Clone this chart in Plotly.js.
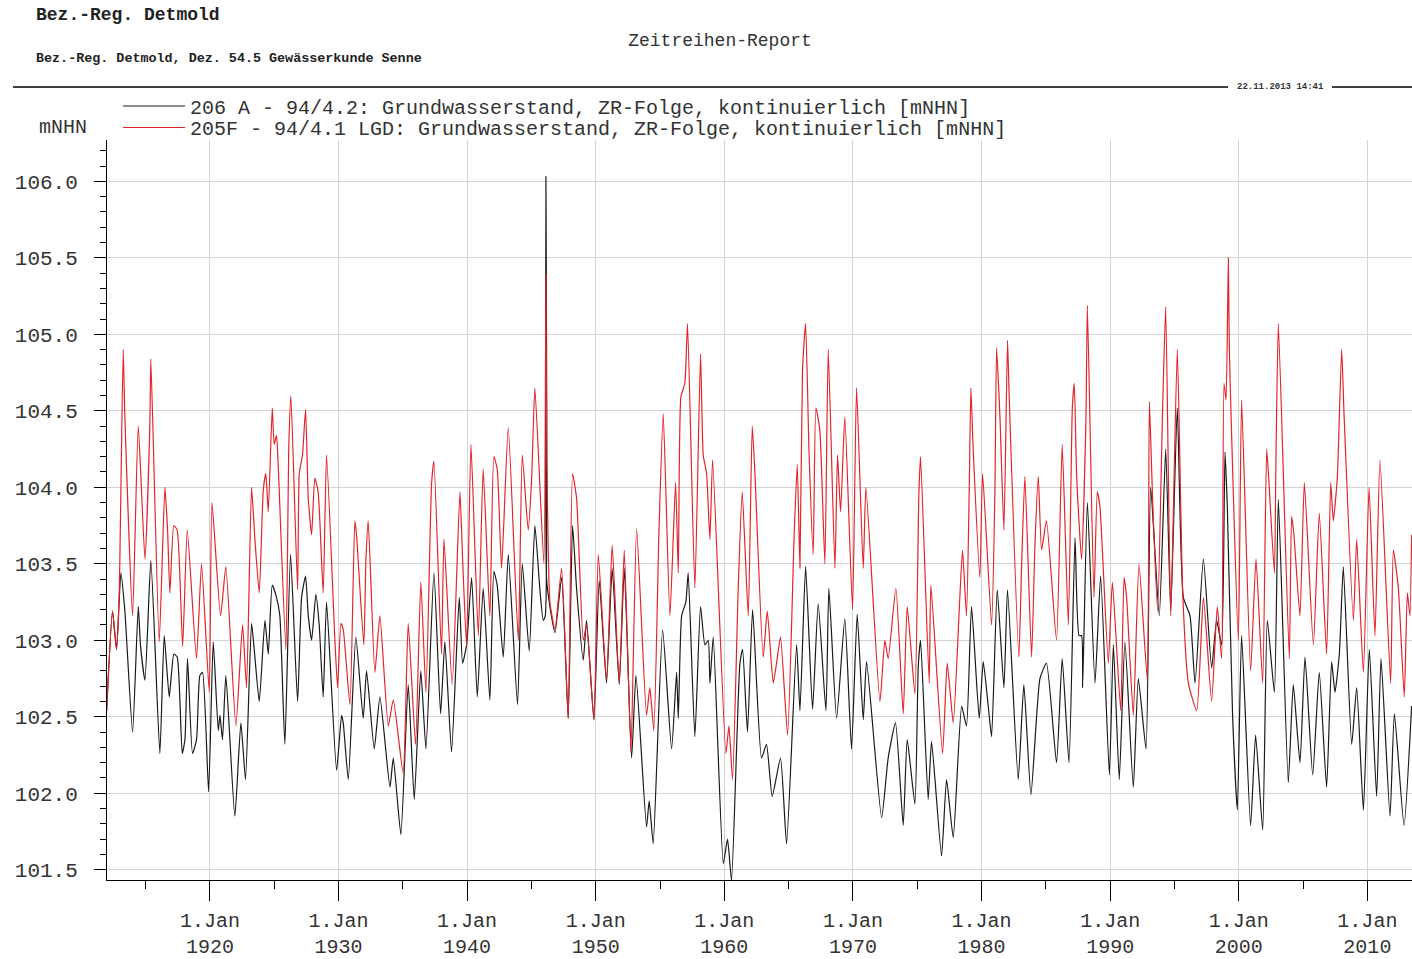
<!DOCTYPE html>
<html><head><meta charset="utf-8">
<script src="https://cdn.plot.ly/plotly-3.0.1.min.js"></script>
<style>html,body{margin:0;padding:0;background:#fff}#chart{width:1412px;height:959px}</style>
</head><body><div id="chart"></div>
<script>
const blackYears = [1911.97,1912.43,1912.74,1913.08,1913.39,1913.99,1914.43,1914.61,1914.95,1915.41,1916.11,1916.45,1916.84,1917.20,1917.46,1917.85,1918.06,1918.26,1918.65,1918.96,1919.22,1919.43,1919.90,1920.26,1920.65,1920.78,1920.98,1921.24,1921.94,1922.41,1922.77,1923.24,1923.50,1923.84,1924.28,1924.54,1924.85,1925.18,1925.44,1925.83,1926.27,1926.82,1927.13,1927.44,1927.65,1927.91,1928.24,1928.50,1928.81,1929.07,1929.85,1930.24,1930.37,1930.76,1931.35,1931.92,1932.18,1932.78,1933.22,1934.00,1934.26,1934.85,1935.42,1935.89,1936.40,1936.80,1937.42,1937.94,1938.27,1938.79,1939.39,1939.65,1939.96,1940.35,1940.79,1941.25,1941.77,1942.08,1942.34,1942.81,1943.20,1943.92,1944.29,1944.83,1945.27,1945.66,1945.92,1946.08,1946.13,1946.18,1946.44,1946.83,1947.35,1947.86,1948.20,1948.51,1949.03,1949.29,1949.86,1950.27,1950.84,1951.28,1951.83,1952.22,1952.79,1953.13,1953.95,1954.16,1954.47,1955.20,1955.90,1956.29,1956.42,1956.68,1957.01,1957.19,1957.71,1958.15,1958.49,1958.75,1958.88,1959.14,1959.92,1960.25,1960.56,1961.21,1961.42,1961.80,1962.20,1962.89,1963.28,1963.72,1964.37,1964.84,1965.62,1965.88,1966.32,1966.86,1967.30,1967.90,1968.13,1968.73,1969.37,1969.89,1970.33,1970.80,1971.06,1972.23,1972.74,1973.31,1973.91,1974.22,1974.82,1975.08,1975.26,1975.85,1976.11,1976.89,1977.28,1977.80,1978.45,1978.83,1979.22,1979.82,1980.13,1980.52,1980.78,1981.22,1981.74,1982.02,1982.85,1983.29,1983.84,1984.54,1985.05,1985.83,1986.27,1986.80,1987.27,1987.58,1987.78,1987.86,1988.23,1988.82,1989.26,1989.94,1990.25,1990.71,1991.15,1991.80,1992.19,1992.79,1993.15,1993.82,1994.32,1994.71,1995.22,1995.69,1996.21,1996.60,1997.25,1997.89,1998.28,1998.67,1998.93,1999.11,1999.52,1999.89,2000.22,2000.92,2001.31,2001.86,2002.22,2002.77,2003.08,2003.85,2004.24,2004.76,2005.15,2005.75,2006.26,2006.83,2007.22,2007.48,2007.82,2008.13,2008.78,2009.17,2009.69,2010.15,2010.72,2011.06,2011.76,2012.10,2012.85,2013.44];
const blackLevels = [102.54,103.19,102.94,103.44,103.19,102.40,103.22,102.96,102.74,103.52,102.26,103.03,102.63,102.91,102.89,102.26,102.35,102.88,102.26,102.35,102.77,102.79,102.01,102.99,102.41,102.51,102.35,102.77,101.85,102.46,102.09,103.11,102.89,102.60,103.13,102.91,103.36,103.28,103.16,102.32,103.56,102.60,103.28,103.42,103.16,103.00,103.30,103.10,102.63,103.25,102.15,102.51,102.46,102.09,103.02,102.49,102.80,102.29,102.63,102.04,102.23,101.73,102.71,101.96,102.80,102.29,103.44,102.52,102.99,102.27,103.28,102.85,102.97,103.41,102.63,103.34,102.61,103.45,103.36,102.89,103.56,102.58,103.50,102.93,103.75,103.33,103.13,103.16,106.03,103.40,103.22,103.05,103.41,102.49,103.75,103.34,102.87,103.13,102.48,103.39,102.72,103.47,102.71,103.47,102.23,102.77,101.78,101.95,101.67,103.07,102.29,102.79,102.49,103.16,103.25,103.44,102.37,103.22,102.97,103.00,102.72,103.02,101.54,101.70,101.43,102.85,102.94,102.40,103.20,102.23,102.32,101.98,102.23,101.67,102.97,102.54,103.48,102.55,103.24,102.54,103.34,102.49,103.14,102.29,103.17,102.48,102.86,101.84,102.23,102.46,101.79,102.35,101.93,102.83,103.00,101.96,102.34,101.59,102.09,101.71,102.57,102.44,103.22,102.49,102.86,102.57,102.37,103.33,102.69,103.33,102.09,102.71,101.99,102.75,102.85,102.20,102.88,102.20,103.67,103.03,103.03,102.69,103.90,102.72,103.42,102.12,102.97,102.09,102.99,102.04,102.75,102.29,104.00,103.16,104.25,103.19,104.52,103.28,103.16,102.72,103.53,102.82,103.13,102.97,104.23,103.87,102.51,101.89,103.03,101.79,102.38,101.76,103.13,102.66,103.92,102.07,102.71,102.20,102.89,102.12,102.79,102.04,102.86,102.66,102.91,103.48,102.32,102.69,101.89,102.94,101.98,102.88,101.85,102.52,101.79,102.57];

const redYears = [1911.97,1912.43,1912.74,1912.95,1913.26,1913.39,1913.99,1914.43,1914.95,1915.33,1915.41,1916.06,1916.50,1916.71,1916.89,1917.20,1917.46,1917.88,1918.24,1918.96,1919.35,1919.95,1920.16,1920.83,1921.24,1922.02,1922.54,1922.85,1923.24,1923.50,1923.84,1924.15,1924.35,1924.54,1924.85,1925.00,1925.18,1925.31,1925.91,1926.14,1926.30,1926.82,1926.95,1927.20,1927.44,1927.65,1927.91,1928.16,1928.42,1928.81,1929.07,1929.72,1929.93,1930.19,1930.37,1930.89,1931.27,1931.40,1931.97,1932.13,1932.31,1932.83,1933.22,1933.87,1934.26,1935.03,1935.42,1935.99,1936.40,1936.80,1937.24,1937.42,1938.01,1938.20,1938.84,1939.44,1939.65,1939.96,1940.30,1940.87,1941.25,1941.77,1942.08,1942.34,1942.68,1943.20,1943.98,1944.29,1944.75,1945.01,1945.27,1945.97,1946.13,1946.20,1946.44,1946.83,1947.35,1947.86,1948.20,1948.51,1949.03,1949.29,1949.86,1950.20,1950.84,1951.28,1951.83,1952.22,1952.74,1953.18,1953.95,1954.21,1954.52,1954.91,1955.25,1955.77,1956.21,1956.42,1956.62,1956.93,1957.14,1957.71,1958.15,1958.36,1958.62,1958.88,1959.09,1960.12,1960.36,1960.64,1961.08,1961.39,1961.86,1962.17,1962.38,1963.02,1963.34,1963.80,1964.06,1964.37,1964.92,1965.43,1965.67,1965.88,1966.08,1966.32,1966.58,1966.91,1967.12,1967.43,1967.82,1968.08,1968.60,1968.80,1969.04,1969.37,1969.97,1970.28,1970.80,1971.01,1972.10,1972.48,1972.74,1973.34,1973.91,1974.22,1974.82,1975.13,1975.26,1975.93,1976.06,1976.97,1977.33,1977.80,1978.26,1978.52,1978.83,1979.04,1979.17,1979.35,1979.87,1980.08,1980.78,1981.04,1981.17,1981.43,1981.74,1982.02,1982.15,1982.90,1983.11,1983.37,1983.89,1984.15,1984.41,1984.67,1985.05,1985.83,1986.27,1986.75,1987.06,1987.21,1987.40,1987.78,1988.12,1988.23,1988.74,1989.00,1989.21,1989.86,1990.17,1990.82,1991.08,1991.28,1991.80,1992.24,1992.89,1993.05,1993.31,1993.69,1994.08,1994.32,1994.71,1995.22,1995.64,1996.08,1996.73,1997.25,1997.89,1998.33,1998.67,1998.85,1999.01,1999.19,1999.27,1999.97,2000.22,2000.92,2001.34,2001.86,2002.17,2002.35,2002.77,2002.89,2003.08,2003.93,2004.11,2004.29,2004.76,2005.10,2005.80,2006.26,2006.83,2007.15,2007.35,2007.66,2008.00,2008.18,2008.91,2009.17,2009.69,2010.13,2010.59,2010.98,2011.81,2012.02,2012.41,2012.87,2013.11,2013.31,2013.44];
const redLevels = [102.54,103.19,102.94,103.31,104.90,104.46,103.16,104.40,103.53,104.40,104.84,102.99,104.00,103.72,103.31,103.75,103.72,102.96,103.72,102.88,103.50,102.66,103.90,103.16,103.48,102.44,103.10,102.69,104.00,103.66,103.31,103.98,104.09,103.84,104.52,104.28,104.34,104.15,102.94,104.28,104.60,103.33,104.09,104.21,104.51,103.93,103.69,104.06,103.97,103.31,104.21,103.00,102.69,103.11,103.07,102.58,103.78,103.69,102.97,103.52,103.78,102.79,103.16,102.44,102.61,102.13,103.11,102.32,103.38,102.66,104.03,104.17,102.91,103.66,102.71,103.97,103.53,102.96,104.28,103.03,104.12,103.16,104.20,104.12,103.47,104.39,103.00,104.21,103.72,104.04,104.65,103.50,105.39,104.20,103.25,103.07,103.47,102.49,104.09,103.93,103.00,103.10,102.48,103.56,102.74,103.62,102.72,103.59,102.27,103.73,102.51,102.69,102.41,103.69,104.48,103.16,104.03,103.44,104.59,104.68,105.07,103.34,104.87,104.21,104.09,103.66,104.18,102.26,102.44,102.09,103.34,103.97,103.16,104.40,104.09,102.89,103.19,102.72,102.85,103.02,102.38,103.69,104.15,103.47,104.77,105.07,104.25,103.56,104.52,104.37,103.50,104.90,103.47,104.21,103.84,104.46,103.20,104.65,103.47,104.00,102.60,103.00,102.88,103.34,102.52,103.22,102.65,103.97,104.20,102.72,103.36,102.26,102.85,102.46,103.19,103.59,103.16,103.97,104.65,104.25,103.41,104.09,103.10,103.97,104.91,104.46,103.72,104.96,104.59,102.89,103.47,104.07,102.89,103.62,104.07,103.59,103.78,103.00,104.28,103.10,104.52,104.68,104.06,103.53,104.46,105.19,103.28,103.97,103.87,102.85,103.38,102.54,103.41,103.28,102.51,103.50,102.74,104.56,103.90,103.19,104.52,105.18,103.16,104.90,103.31,102.72,102.54,103.28,102.60,103.22,102.88,104.68,104.57,105.50,104.90,103.00,104.57,102.80,103.53,102.72,104.25,104.03,103.44,104.17,105.07,102.88,103.81,103.69,103.16,104.03,102.97,103.83,102.91,104.03,103.78,104.06,104.90,104.49,103.13,103.66,102.79,104.00,103.03,104.18,102.72,103.59,103.34,102.63,103.31,103.16,103.69];

const seriesNames = [
  '206 A - 94/4.2: Grundwasserstand, ZR-Folge, kontinuierlich [mNHN]',
  '205F - 94/4.1 LGD: Grundwasserstand, ZR-Folge, kontinuierlich [mNHN]'
];
const decadeTicks = [1920,1930,1940,1950,1960,1970,1980,1990,2000,2010];
const tickLabels = decadeTicks.map(y => '1.Jan<br>' + y);
const yTicks = [101.5,102.0,102.5,103.0,103.5,104.0,104.5,105.0,105.5,106.0];
const yTickLabels = yTicks.map(v => v.toFixed(1));

const MONO = 'Liberation Mono, Courier New, monospace';

// paper-coordinate helpers (plot area: x 107..1412, y 140..880)
const px = x => (x - 107) / 1305;
const py = y => 1 + (140 - y) / 740;

const traces = [
  {type:'scatter', mode:'lines', x: blackYears, y: blackLevels, name: seriesNames[0], legend:'legend',
   line:{color:'#1a1a1a', width:1.2, shape:'spline', smoothing:0.5}},
  {type:'scatter', mode:'lines', x: redYears, y: redLevels, name: seriesNames[1], legend:'legend2',
   line:{color:'#e3242b', width:1.2, shape:'spline', smoothing:0.5}}
];

const legendStyle = (yc) => ({x:px(118), y:py(yc), xanchor:'left', yanchor:'middle', bgcolor:'rgba(0,0,0,0)',
  font:{family:MONO, size:20, color:'#333333'}, itemwidth:62, borderwidth:0});

const layout = {
  width:1412, height:959,
  margin:{l:107, r:0, t:140, b:79, pad:0},
  paper_bgcolor:'#ffffff', plot_bgcolor:'#ffffff',
  font:{family:MONO, color:'#333333', size:20},
  title:{text:'Zeitreihen-Report', x:720/1412, xref:'container', xanchor:'center',
         y:1-40/959, yref:'container', yanchor:'middle',
         font:{family:MONO, size:18, color:'#333333'}},
  showlegend:true,
  legend:legendStyle(106),
  legend2:legendStyle(127.5),
  xaxis:{range:[1912.0, 2013.47], tickmode:'array', tickvals:decadeTicks, ticktext:tickLabels,
         ticks:'outside', ticklen:20, tickwidth:1, tickcolor:'#000',
         showline:true, linecolor:'#000', linewidth:1,
         showgrid:true, gridcolor:'#d4d4d4', gridwidth:1, zeroline:false,
         ticklabelstandoff:2,
         tickfont:{family:MONO, size:20, color:'#333333'},
         minor:{tickmode:'linear', tick0:1915, dtick:10, ticks:'outside', ticklen:8, tickcolor:'#000', showgrid:false}},
  yaxis:{range:[101.433, 106.27], tickmode:'array', tickvals:yTicks, ticktext:yTickLabels,
         ticks:'outside', ticklen:12, tickwidth:1, tickcolor:'#000',
         showline:true, linecolor:'#000', linewidth:1,
         showgrid:true, gridcolor:'#d4d4d4', gridwidth:1, zeroline:false,
         ticklabelstandoff:12,
         tickfont:{family:MONO, size:21, color:'#333333'},
         minor:{tickmode:'linear', tick0:101.5, dtick:0.1, ticks:'outside', ticklen:6, tickcolor:'#000', showgrid:false}},
  annotations:[
    {text:'<b>Bez.-Reg. Detmold</b>', xref:'paper', yref:'paper', x:px(34), y:py(15),
     xanchor:'left', yanchor:'middle', showarrow:false, font:{family:MONO, size:18, color:'#222'}},
    {text:'<b>Bez.-Reg. Detmold, Dez. 54.5 Gewässerkunde Senne</b>', xref:'paper', yref:'paper', x:px(34), y:py(59),
     xanchor:'left', yanchor:'middle', showarrow:false, font:{family:MONO, size:13.4, color:'#222'}},
    {text:'<b>22.11.2013 14:41</b>', xref:'paper', yref:'paper', x:px(1280), y:py(87),
     xanchor:'center', yanchor:'middle', showarrow:false, font:{family:MONO, size:9, color:'#333'}},
    {text:'mNHN', xref:'paper', yref:'paper', x:px(37), y:py(128),
     xanchor:'left', yanchor:'middle', showarrow:false, font:{family:MONO, size:20, color:'#333'}}
  ],
  shapes:[
    {type:'line', xref:'paper', yref:'paper', x0:px(13), x1:px(1228), y0:py(87), y1:py(87), line:{color:'#000', width:1.5}},
    {type:'line', xref:'paper', yref:'paper', x0:px(1332), x1:px(1412), y0:py(87), y1:py(87), line:{color:'#000', width:1.5}}
  ]
};

Plotly.newPlot('chart', traces, layout, {displayModeBar:false, staticPlot:true});
</script></body></html>
